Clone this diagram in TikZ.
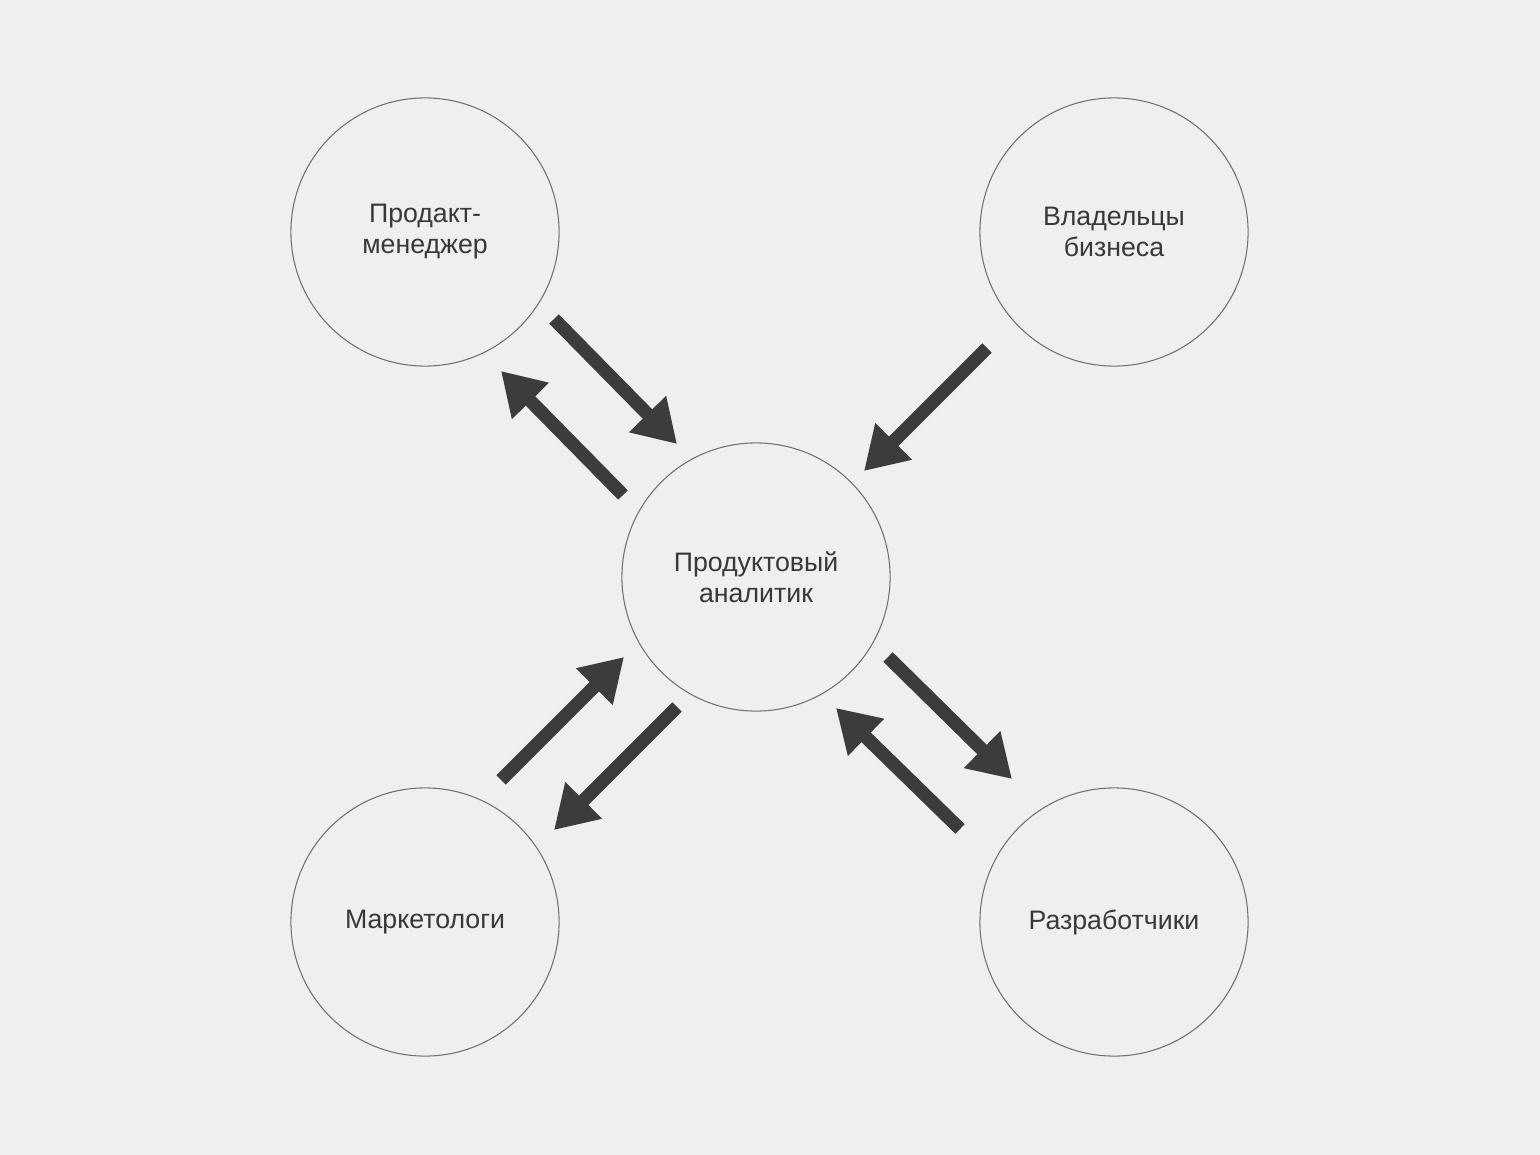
\documentclass[tikz,border=0pt]{standalone}
\usepackage{fontspec}
\setmainfont{Liberation Sans}
\usetikzlibrary{arrows.meta}
\definecolor{fundo}{HTML}{EFEFEF}
\definecolor{seta}{HTML}{3C3C3C}
\definecolor{borda}{HTML}{707070}
\definecolor{texto}{HTML}{383838}
\begin{document}
\begin{tikzpicture}[
    x=0.01cm, y=-0.01cm,
    % Круги ролей
    rol/.style={
        draw=borda, line width=0.3pt, circle, fill=fundo,
        minimum size=2.68cm, inner sep=0pt, align=center,
        font=\fontsize{7.6}{8.8}\selectfont, text=texto
    },
    % Толстые стрелки
    seta_g/.style={
        draw=seta, line width=3.8pt,
        -{Triangle[length=4.2mm, width=4.9mm]}
    }
]

% ---- ФОН ----
\fill[fundo] (0,0) rectangle (1540,1155);
\useasboundingbox (0,0) rectangle (1540,1155);

% ---- КРУГИ ----
\node[rol] (pm)     at (425, 232)  {Продакт-\\менеджер};
\node[rol] (donos)  at (1114, 232) {Владельцы\\бизнеса};
\node[rol] (anal)   at (756, 577)  {Продуктовый\\аналитик};
\node[rol] (mkt)    at (425, 922)  {Маркетологи};
\node[rol] (dev)    at (1114, 922) {Разработчики};

% ---- КОНЦЫ СТРЕЛОК ----
\coordinate (pm_a1)  at (554, 319);
\coordinate (pm_a2)  at (677, 444);
\coordinate (pm_b1)  at (623, 495);
\coordinate (pm_b2)  at (501, 371);
\coordinate (don_1)  at (987, 348);
\coordinate (don_2)  at (864, 471);
\coordinate (mkt_a1) at (501, 780);
\coordinate (mkt_a2) at (624, 657);
\coordinate (mkt_b1) at (677, 707);
\coordinate (mkt_b2) at (554, 830);
\coordinate (dev_a1) at (888, 657);
\coordinate (dev_a2) at (1012, 779);
\coordinate (dev_b1) at (960, 829);
\coordinate (dev_b2) at (836, 708);

% ---- СТРЕЛКИ ----
\draw[seta_g] (pm_a1)  -- (pm_a2);
\draw[seta_g] (pm_b1)  -- (pm_b2);
\draw[seta_g] (don_1)  -- (don_2);
\draw[seta_g] (mkt_a1) -- (mkt_a2);
\draw[seta_g] (mkt_b1) -- (mkt_b2);
\draw[seta_g] (dev_a1) -- (dev_a2);
\draw[seta_g] (dev_b1) -- (dev_b2);

\end{tikzpicture}
\end{document}
